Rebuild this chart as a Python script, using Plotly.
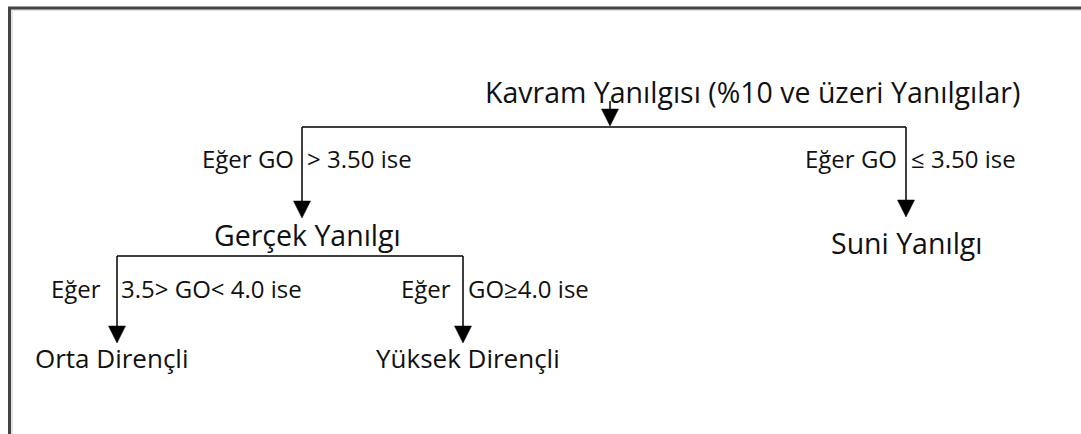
import plotly.graph_objects as go

# node texts
root_label = "Kavram Yanılgısı (%10 ve üzeri Yanılgılar)"
level1_labels = ["Gerçek Yanılgı", "Suni Yanılgı"]
level2_labels = ["Orta Dirençli", "Yüksek Dirençli"]

# branch condition texts (left part, right part of each split)
branch1_conditions = [("Eğer GO", "> 3.50 ise"), ("Eğer GO", "≤ 3.50 ise")]
branch2_conditions = [("Eğer", "3.5> GO< 4.0 ise"), ("Eğer", "GO≥4.0 ise")]

W, H = 1081, 434
FONT = "Open Sans"
LINE = "black"
ROOT_SIZE = 28.5
L1_SIZE = 28.5
L2_SIZE = 26
COND_SIZE = 24

fig = go.Figure()
shapes = []
annotations = []


def line(x0, y0, x1, y1, width=1.5, color=LINE):
    shapes.append(dict(type="line", x0=x0, y0=y0, x1=x1, y1=y1,
                       line=dict(color=color, width=width)))


def arrow_down(x, y0, y1):
    # vertical line ending with a filled triangle whose tip is at y1
    line(x, y0, x, y1 - 10)
    shapes.append(dict(type="path",
                       path=f"M {x-8.5},{y1-17} L {x+8.5},{y1-17} L {x},{y1} Z",
                       fillcolor=LINE, line=dict(color=LINE, width=0.5)))


def text(x, y, s, size, anchor="center"):
    annotations.append(dict(x=x, y=y, text=s, showarrow=False, xanchor=anchor,
                            yanchor="middle", font=dict(family=FONT, size=size, color="#111")))


# frame (top and left edges only)
line(9, 9.5, W, 9.5, width=3, color="#e4e4e4")
line(11.5, 9, 11.5, H, width=3, color="#e4e4e4")
line(8, 8, W, 8, width=3, color="#444")
line(9.5, 7, 9.5, H, width=3, color="#444")

# root
text(752, 92, root_label, ROOT_SIZE)
arrow_down(610, 101, 126)
line(302, 127, 906, 127)

# first split
arrow_down(302, 127, 218)
arrow_down(906, 127, 217)
text(296, 158, branch1_conditions[0][0], COND_SIZE, "right")
text(305, 158, branch1_conditions[0][1], COND_SIZE, "left")
text(899, 158, branch1_conditions[1][0], COND_SIZE, "right")
text(909, 158, branch1_conditions[1][1], COND_SIZE, "left")
text(307, 235, level1_labels[0], L1_SIZE)
text(907, 243, level1_labels[1], L1_SIZE)

# second split
line(117, 256, 463, 256)
arrow_down(117, 256, 343)
arrow_down(463, 256, 343)
text(103, 288, branch2_conditions[0][0], COND_SIZE, "right")
text(119, 288, branch2_conditions[0][1], COND_SIZE, "left")
text(453, 288, branch2_conditions[1][0], COND_SIZE, "right")
text(466, 288, branch2_conditions[1][1], COND_SIZE, "left")
text(112, 358, level2_labels[0], L2_SIZE)
text(468, 358, level2_labels[1], L2_SIZE)

fig.update_layout(
    width=W, height=H,
    margin=dict(l=0, r=0, t=0, b=0),
    paper_bgcolor="white", plot_bgcolor="white",
    xaxis=dict(range=[0, W], visible=False, fixedrange=True),
    yaxis=dict(range=[H, 0], visible=False, fixedrange=True),
    shapes=shapes, annotations=annotations, showlegend=False,
)

# drop the browser's default body margin so the figure sits at the page origin
fig.write_html("out.html", config={"displayModeBar": False},
               post_script="document.body.style.margin='0';")
